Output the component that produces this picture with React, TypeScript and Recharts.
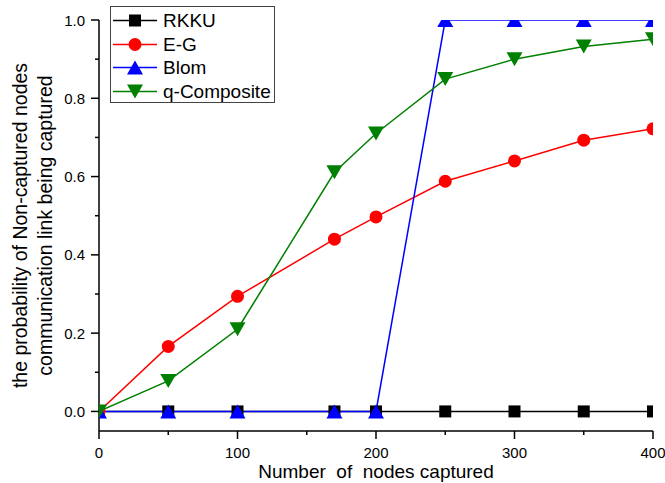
import React from 'react';
import * as Recharts from 'recharts';
import { LineChart, Line, XAxis, YAxis, Legend } from 'recharts';

// nodes captured (x) and the four schemes' probabilities
const nodesCaptured = [0, 50, 100, 170, 200, 250, 300, 350, 400];
const rkku = [0, 0, 0, 0, 0, 0, 0, 0, 0];
const eg = [0, 0.166, 0.294, 0.44, 0.497, 0.588, 0.64, 0.693, 0.722];
const blom = [0, 0, 0, 0, 0, 1, 1, 1, 1];
const qComposite = [0, 0.078, 0.21, 0.611, 0.71, 0.849, 0.9, 0.932, 0.951];

const xTicks = [0, 50, 100, 150, 200, 250, 300, 350, 400];
const yTicks = [0, 0.1, 0.2, 0.3, 0.4, 0.5, 0.6, 0.7, 0.8, 0.9, 1.0];

const FONT = '"Liberation Sans", Arial, Helvetica, sans-serif';
const CHART_W = 665;
const CHART_H = 483;
const MARGIN = { top: 20, right: 12, bottom: 0, left: 0 };
const Y_AXIS_W = 99;
const X_AXIS_H = 52;

const chartData = nodesCaptured.map((x, i) => ({
  x,
  rkku: rkku[i],
  eg: eg[i],
  blom: blom[i],
  qComposite: qComposite[i],
}));

type Shape = 'square' | 'circle' | 'up' | 'down';

const series: { key: string; name: string; color: string; shape: Shape }[] = [
  { key: 'rkku', name: 'RKKU', color: '#000000', shape: 'square' },
  { key: 'eg', name: 'E-G', color: '#ff0000', shape: 'circle' },
  { key: 'blom', name: 'Blom', color: '#0000ff', shape: 'up' },
  { key: 'qComposite', name: 'q-Composite', color: '#008000', shape: 'down' },
];

function Marker({ cx, cy, shape, color }: { cx: number; cy: number; shape: Shape; color: string }) {
  if (shape === 'square') {
    return <rect x={cx - 6} y={cy - 6} width={12} height={12} fill={color} />;
  }
  if (shape === 'circle') {
    return <circle cx={cx} cy={cy} r={6.5} fill={color} />;
  }
  if (shape === 'up') {
    return <polygon points={`${cx},${cy - 7} ${cx + 8},${cy + 7} ${cx - 8},${cy + 7}`} fill={color} />;
  }
  return <polygon points={`${cx - 8},${cy - 7} ${cx + 8},${cy - 7} ${cx},${cy + 7}`} fill={color} />;
}

// plot area, from recharts when the hook exists, else from the layout constants
const fallbackArea = {
  x: MARGIN.left + Y_AXIS_W,
  y: MARGIN.top,
  width: CHART_W - MARGIN.left - MARGIN.right - Y_AXIS_W,
  height: CHART_H - MARGIN.top - MARGIN.bottom - X_AXIS_H,
};
const usePlotAreaSafe: () => any =
  typeof (Recharts as any).usePlotArea === 'function' ? (Recharts as any).usePlotArea : () => fallbackArea;

// markers are cut at the frame, like the original
const ClippedMarker = (props: { id: string; cx: number; cy: number; shape: Shape; color: string }) => {
  const area = usePlotAreaSafe() || fallbackArea;
  return (
    <g>
      <defs>
        <clipPath id={props.id}>
          <rect x={area.x} y={area.y} width={area.width} height={area.height} />
        </clipPath>
      </defs>
      <g clipPath={`url(#${props.id})`}>
        <Marker cx={props.cx} cy={props.cy} shape={props.shape} color={props.color} />
      </g>
    </g>
  );
};

const makeDot = (key: string, shape: Shape, color: string) => (props: any) => {
  const k = `${key}-${props.index}`;
  if (props.cx == null || props.cy == null) return <g key={k} />;
  return <ClippedMarker key={k} id={`clip-${k}`} cx={props.cx} cy={props.cy} shape={shape} color={color} />;
};

const YTick = (props: any) => {
  const { x, y, payload } = props;
  const major = Math.round(payload.value * 10) % 2 === 0;
  return (
    <g>
      <line x1={x - (major ? 8 : 4)} x2={x} y1={y} y2={y} stroke="#000" strokeWidth={1.5} />
      {major && (
        <text x={x - 14} y={y + 5.5} textAnchor="end" fontSize={15} fontFamily={FONT} fill="#000">
          {payload.value.toFixed(1)}
        </text>
      )}
    </g>
  );
};

const XTick = (props: any) => {
  const { x, y, payload } = props;
  const major = payload.value % 100 === 0;
  return (
    <g>
      <line x1={x} x2={x} y1={y} y2={y + (major ? 8 : 4)} stroke="#000" strokeWidth={1.5} />
      {major && (
        <text x={x} y={y + 27} textAnchor="middle" fontSize={15} fontFamily={FONT} fill="#000">
          {payload.value}
        </text>
      )}
    </g>
  );
};

const YTitle = (props: any) => {
  const vb = props.viewBox || { x: 0, y: 20, width: 99, height: 411 };
  const cy = vb.y + vb.height / 2;
  return (
    <g fontSize={19.5} fontFamily={FONT} fill="#000" textAnchor="middle">
      <text transform={`translate(${vb.x + 27}, ${cy}) rotate(-90)`}>
        the probability of Non-captured nodes
      </text>
      <text transform={`translate(${vb.x + 52}, ${cy}) rotate(-90)`}>
        communication link being captured
      </text>
    </g>
  );
};

const XTitle = (props: any) => {
  const vb = props.viewBox || { x: 99, y: 431, width: 554, height: 52 };
  return (
    <text
      x={vb.x + vb.width / 2}
      y={vb.y + 47}
      textAnchor="middle"
      fontSize={19}
      fontFamily={FONT}
      fill="#000"
      style={{ whiteSpace: 'pre' }}
    >
      {'Number  of  nodes captured'}
    </text>
  );
};

const LegendBox = () => (
  <div
    style={{
      boxSizing: 'border-box',
      width: 165,
      height: 97,
      border: '1px solid #444',
      background: '#fff',
      paddingTop: 2,
      fontFamily: FONT,
      fontSize: 19,
      color: '#000',
    }}
  >
    {series.map((s) => (
      <div key={s.key} style={{ display: 'flex', alignItems: 'center', height: 23.5, lineHeight: '23.5px' }}>
        <svg width={48} height={23} style={{ display: 'block' }}>
          <line x1={2} x2={46} y1={11.5} y2={11.5} stroke={s.color} strokeWidth={1.5} />
          <Marker cx={24} cy={11.5} shape={s.shape} color={s.color} />
        </svg>
        <span style={{ marginLeft: 4, whiteSpace: 'nowrap' }}>{s.name}</span>
      </div>
    ))}
  </div>
);

export default function App() {
  return (
    <div style={{ position: 'absolute', left: 0, top: 0, background: '#fff' }}>
      <LineChart width={CHART_W} height={CHART_H} data={chartData} margin={MARGIN}>
        <XAxis
          dataKey="x"
          type="number"
          domain={[0, 400]}
          allowDataOverflow
          ticks={xTicks}
          interval={0}
          tickSize={0}
          tickMargin={0}
          tickLine={false}
          tick={<XTick />}
          height={X_AXIS_H}
          axisLine={{ stroke: '#000', strokeWidth: 1.5 }}
          label={<XTitle />}
        />
        <YAxis
          type="number"
          domain={[-0.05, 1]}
          allowDataOverflow
          ticks={yTicks}
          interval={0}
          tickSize={0}
          tickMargin={0}
          tickLine={false}
          tick={<YTick />}
          width={Y_AXIS_W}
          axisLine={{ stroke: '#000', strokeWidth: 1.5 }}
          label={<YTitle />}
        />
        <Legend
          layout="vertical"
          align="center"
          verticalAlign="middle"
          wrapperStyle={{ left: 110, top: 6, width: 165 }}
          content={<LegendBox />}
        />
        {series.map((s) => (
          <Line
            key={s.key}
            type="linear"
            dataKey={s.key}
            name={s.name}
            stroke={s.color}
            strokeWidth={1.5}
            dot={makeDot(s.key, s.shape, s.color)}
            activeDot={false}
            isAnimationActive={false}
          />
        ))}
      </LineChart>
    </div>
  );
}
